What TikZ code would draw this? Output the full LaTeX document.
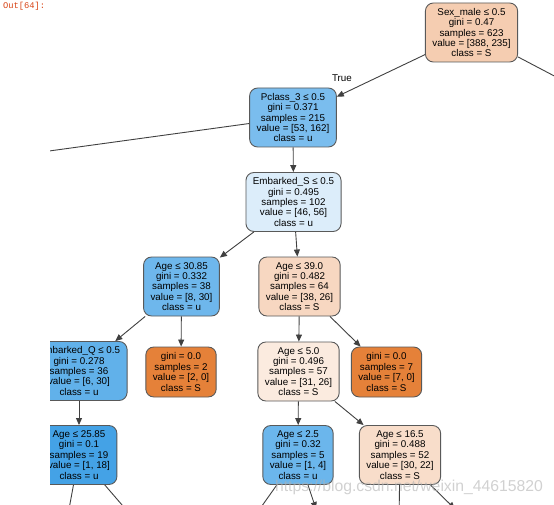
\documentclass[tikz,border=0pt]{standalone}
\usepackage{fontspec}
\setmainfont{Liberation Sans}
\newfontfamily\promptfont{Liberation Mono}
\usepackage{tikz}
\usetikzlibrary{arrows.meta, positioning}
\definecolor{rootc}{RGB}{245,205,177}
\definecolor{pclc}{RGB}{122,189,238}
\definecolor{embc}{RGB}{220,237,250}
\definecolor{ageac}{RGB}{110,183,236}
\definecolor{agebc}{RGB}{247,215,193}
\definecolor{embqc}{RGB}{97,177,234}
\definecolor{leafc}{RGB}{229,129,57}
\definecolor{agecc}{RGB}{251,235,223}
\definecolor{agedc}{RGB}{68,162,230}
\definecolor{ageec}{RGB}{107,182,236}
\definecolor{agefc}{RGB}{248,221,202}
\definecolor{promptc}{RGB}{216,67,21}

\begin{document}
\begin{tikzpicture}[x=1pt, y=-1pt,
    tnode/.style={draw=black!65, line width=0.9pt, rounded corners=8pt, align=center, inner xsep=7pt, inner ysep=3pt, font=\fontsize{9.8}{10.4}\selectfont},
    split/.style={tnode, minimum height=59pt},
    leaf/.style={tnode, fill=leafc, minimum height=50pt},
    arrow/.style={-{Triangle[length=7pt, width=6pt]}, draw=black!75, line width=0.9pt}
]
    \useasboundingbox (0,0) rectangle (554,505);
    \node[font=\promptfont\fontsize{8.75}{10}\selectfont, text=promptc, anchor=west, inner sep=0pt] (prompt) at (3,6.5) {Out[64]:};

    \begin{scope}
    \clip (50,0) rectangle (554,505);
    \node[split, fill=rootc] (root) at (471.5,32.5) {Sex\_male ≤ 0.5\\gini = 0.47\\samples = 623\\value = [388, 235]\\class = S};
    \node[split, fill=pclc]  (pcl)  at (293,117.5) {Pclass\_3 ≤ 0.5\\gini = 0.371\\samples = 215\\value = [53, 162]\\class = u};
    \node[split, fill=embc]  (emb)  at (293.5,202) {Embarked\_S ≤ 0.5\\gini = 0.495\\samples = 102\\value = [46, 56]\\class = u};
    \node[split, fill=ageac] (agea) at (181.5,286.5) {Age ≤ 30.85\\gini = 0.332\\samples = 38\\value = [8, 30]\\class = u};
    \node[split, fill=agebc] (ageb) at (299.5,286.5) {Age ≤ 39.0\\gini = 0.482\\samples = 64\\value = [38, 26]\\class = S};
    \node[split, fill=embqc] (embq) at (79,371) {Embarked\_Q ≤ 0.5\\gini = 0.278\\samples = 36\\value = [6, 30]\\class = u};
    \node[leaf]              (lfa)  at (181,372) {gini = 0.0\\samples = 2\\value = [2, 0]\\class = S};
    \node[split, fill=agecc] (agec) at (298.5,371.5) {Age ≤ 5.0\\gini = 0.496\\samples = 57\\value = [31, 26]\\class = S};
    \node[leaf]              (lfb)  at (386.5,372) {gini = 0.0\\samples = 7\\value = [7, 0]\\class = S};
    \node[split, fill=agedc] (aged) at (79,455) {Age ≤ 25.85\\gini = 0.1\\samples = 19\\value = [1, 18]\\class = u};
    \node[split, fill=ageec] (agee) at (298,455) {Age ≤ 2.5\\gini = 0.32\\samples = 5\\value = [1, 4]\\class = u};
    \node[split, fill=agefc] (agef) at (400,455) {Age ≤ 16.5\\gini = 0.488\\samples = 52\\value = [30, 22]\\class = S};
    \node[font=\fontsize{9.8}{10.4}\selectfont, inner sep=0pt] (truelbl) at (342,78) {True};

    \coordinate (rootr) at (600,100);
    \coordinate (pcll)  at (20,155);
    \coordinate (agedl) at (67,520);
    \coordinate (agedr) at (135,520);
    \coordinate (ageel) at (252,520);
    \coordinate (ageer) at (316,509);
    \coordinate (agefl) at (399,520);
    \coordinate (agefr) at (455,509);

    \draw[arrow] (root) -- (pcl);
    \draw[arrow] (root) -- (rootr);
    \draw[arrow] (pcl) -- (pcll);
    \draw[arrow] (pcl) -- (emb);
    \draw[arrow] (emb) -- (agea);
    \draw[arrow] (emb) -- (ageb);
    \draw[arrow] (agea) -- (embq);
    \draw[arrow] (agea) -- (lfa);
    \draw[arrow] (ageb) -- (agec);
    \draw[arrow] (ageb) -- (lfb);
    \draw[arrow] (embq) -- (aged);
    \draw[arrow] (agec) -- (agee);
    \draw[arrow] (agec) -- (agef);
    \draw[arrow] (aged) -- (agedl);
    \draw[arrow] (aged) -- (agedr);
    \draw[arrow] (agee) -- (ageel);
    \draw[arrow] (agee) -- (ageer);
    \draw[arrow] (agef) -- (agefl);
    \draw[arrow] (agef) -- (agefr);
    \end{scope}

    \node[font=\fontsize{15.75}{18}\selectfont, text=gray!60, opacity=0.6, inner sep=0pt] (mark) at (409,487) {https://blog.csdn.net/weixin\_44615820};
\end{tikzpicture}
\end{document}
